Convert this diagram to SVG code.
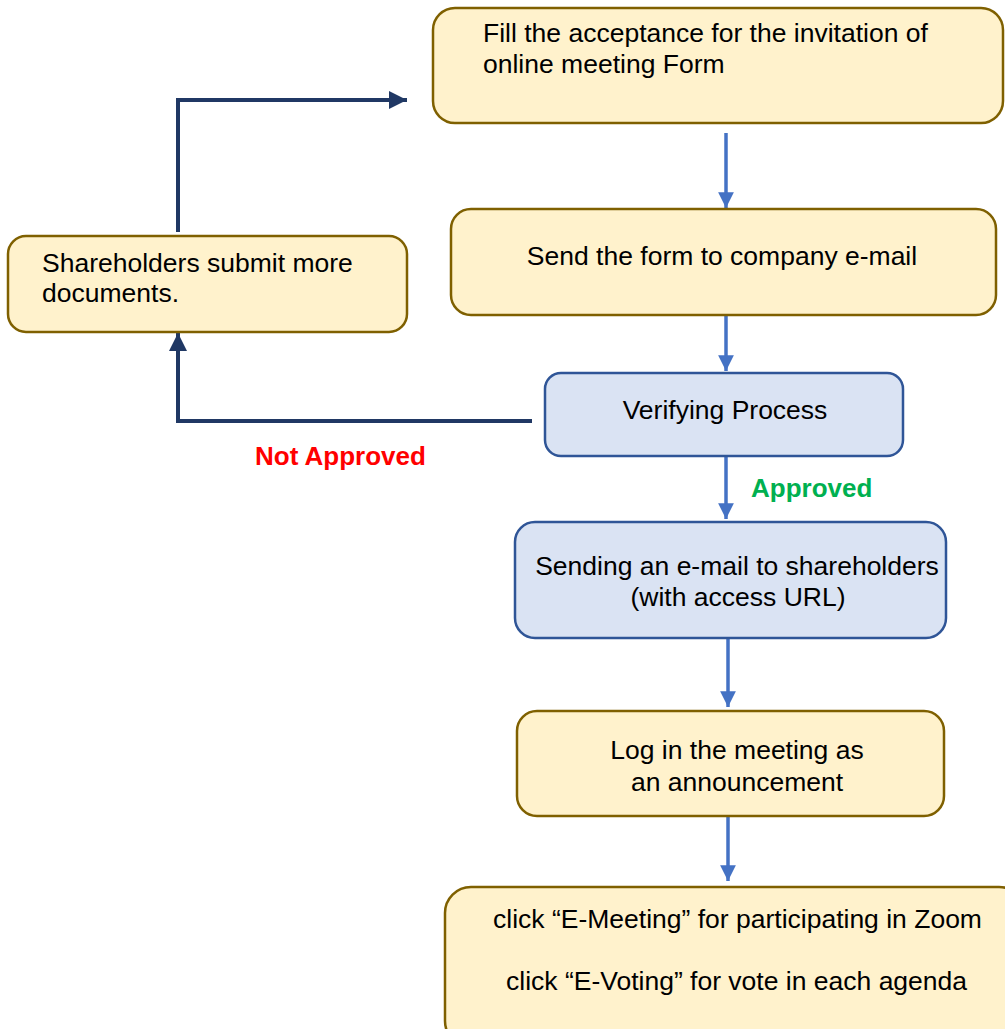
<svg xmlns="http://www.w3.org/2000/svg" width="1005" height="1029" viewBox="0 0 1005 1029">
<defs>
<marker id="ab" viewBox="0 0 10 10" refX="10" refY="5" markerWidth="4.5" markerHeight="4.5" markerUnits="strokeWidth" orient="auto"><path d="M0,0 L10,5 L0,10 z" fill="#4472C4"/></marker>
<marker id="an" viewBox="0 0 10 10" refX="10" refY="5" markerWidth="4.5" markerHeight="4.5" markerUnits="strokeWidth" orient="auto"><path d="M0,0 L10,5 L0,10 z" fill="#203864"/></marker>
</defs>
<style>
text{font-family:"Liberation Sans",Arial,sans-serif;font-size:26.5px;fill:#000}
.y{fill:#FFF2CC;stroke:#7F6000;stroke-width:2.5}
.b{fill:#DAE3F3;stroke:#2F5597;stroke-width:2.5}
.c{fill:none;stroke:#4472C4;stroke-width:3.5}
.n{fill:none;stroke:#203864;stroke-width:4}
.m{text-anchor:middle}
.l{font-weight:bold;font-size:26px}
</style>
<rect width="1005" height="1029" fill="#fff"/>
<g id="connectors">
<line class="c" x1="726" y1="133" x2="726" y2="208" marker-end="url(#ab)"/>
<line class="c" x1="726" y1="316" x2="726" y2="371" marker-end="url(#ab)"/>
<line class="c" x1="726" y1="457" x2="726" y2="519" marker-end="url(#ab)"/>
<line class="c" x1="728" y1="639" x2="728" y2="707" marker-end="url(#ab)"/>
<line class="c" x1="728" y1="815" x2="728" y2="881" marker-end="url(#ab)"/>
<polyline class="n" points="532,421 178,421 178,333" marker-end="url(#an)"/>
<polyline class="n" points="178,232 178,100 407,100" marker-end="url(#an)"/>
<text class="l" x="255" y="465" style="fill:#FF0000">Not Approved</text>
<text class="l" x="751" y="497" style="fill:#00B050">Approved</text>
</g>
<g id="n1">
<rect class="y" x="433" y="8" width="570" height="115" rx="22"/>
<text x="483" y="42">Fill the acceptance for the invitation of</text>
<text x="483" y="73">online meeting Form</text>
</g>
<g id="n2">
<rect class="y" x="451" y="209" width="545" height="106" rx="20"/>
<text class="m" x="722" y="265">Send the form to company e-mail</text>
</g>
<g id="n3">
<rect class="b" x="545" y="373" width="358" height="83" rx="16"/>
<text class="m" x="725" y="419">Verifying Process</text>
</g>
<g id="n4">
<rect class="b" x="515" y="522" width="431" height="116" rx="20"/>
<text class="m" x="737" y="575">Sending an e-mail to shareholders</text>
<text class="m" x="738" y="606">(with access URL)</text>
</g>
<g id="n5">
<rect class="y" x="517" y="711" width="427" height="105" rx="20"/>
<text class="m" x="737" y="759">Log in the meeting as</text>
<text class="m" x="737" y="791">an announcement</text>
</g>
<g id="n6">
<rect class="y" x="445" y="887" width="580" height="160" rx="26"/>
<text x="493" y="928">click “E-Meeting” for participating in Zoom</text>
<text x="506" y="990">click “E-Voting” for vote in each agenda</text>
</g>
<g id="n7">
<rect class="y" x="8" y="236" width="399" height="96" rx="18"/>
<text x="42" y="272">Shareholders submit more</text>
<text x="42" y="302">documents.</text>
</g>
</svg>
